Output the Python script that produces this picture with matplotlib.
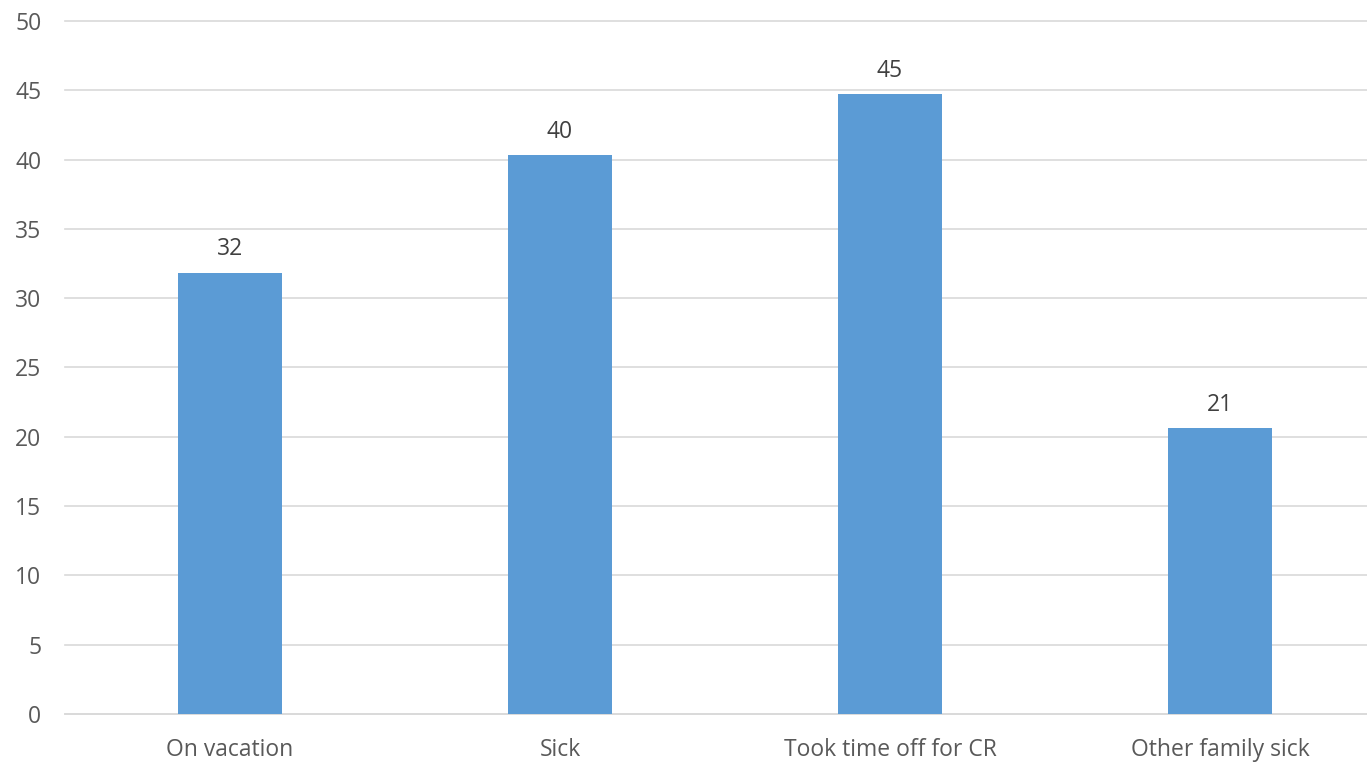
import matplotlib.pyplot as plt

plt.rcParams["font.family"] = ["Open Sans", "DejaVu Sans"]

categories = ["On vacation", "Sick", "Took time off for CR", "Other family sick"]
values = [31.8, 40.3, 44.7, 20.6]
labels = ["32", "40", "45", "21"]
y_ticks = [0, 5, 10, 15, 20, 25, 30, 35, 40, 45, 50]

fig = plt.figure(figsize=(13.67, 7.65), dpi=100)
ax = fig.add_axes([0.0476, 0.0667, 0.9656, 0.9059])

x = range(len(categories))
bars = ax.bar(x, values, width=0.315, color="#5b9bd5", zorder=3)
for b, lab in zip(bars, labels):
    ax.text(b.get_x() + b.get_width() / 2, b.get_height() + 0.85, lab,
            ha="center", va="bottom", fontsize=16.5, color="#404040")

ax.set_xlim(-0.5, 3.5)
ax.set_ylim(0, 50)
ax.set_yticks(y_ticks)
ax.set_xticks(list(x))
ax.set_xticklabels(categories)
ax.tick_params(axis="both", length=0, labelsize=16.5, labelcolor="#595959")
ax.tick_params(axis="x", pad=17)
ax.tick_params(axis="y", pad=17)
ax.grid(axis="y", color="#d9d9d9", linewidth=1.2, zorder=0)
for side in ["top", "right", "left"]:
    ax.spines[side].set_visible(False)
ax.spines["bottom"].set_color("#d9d9d9")
ax.spines["bottom"].set_linewidth(1.2)
for gl in ax.get_ygridlines():
    gl.set_clip_on(False)

fig.savefig("out.png", dpi=100)
